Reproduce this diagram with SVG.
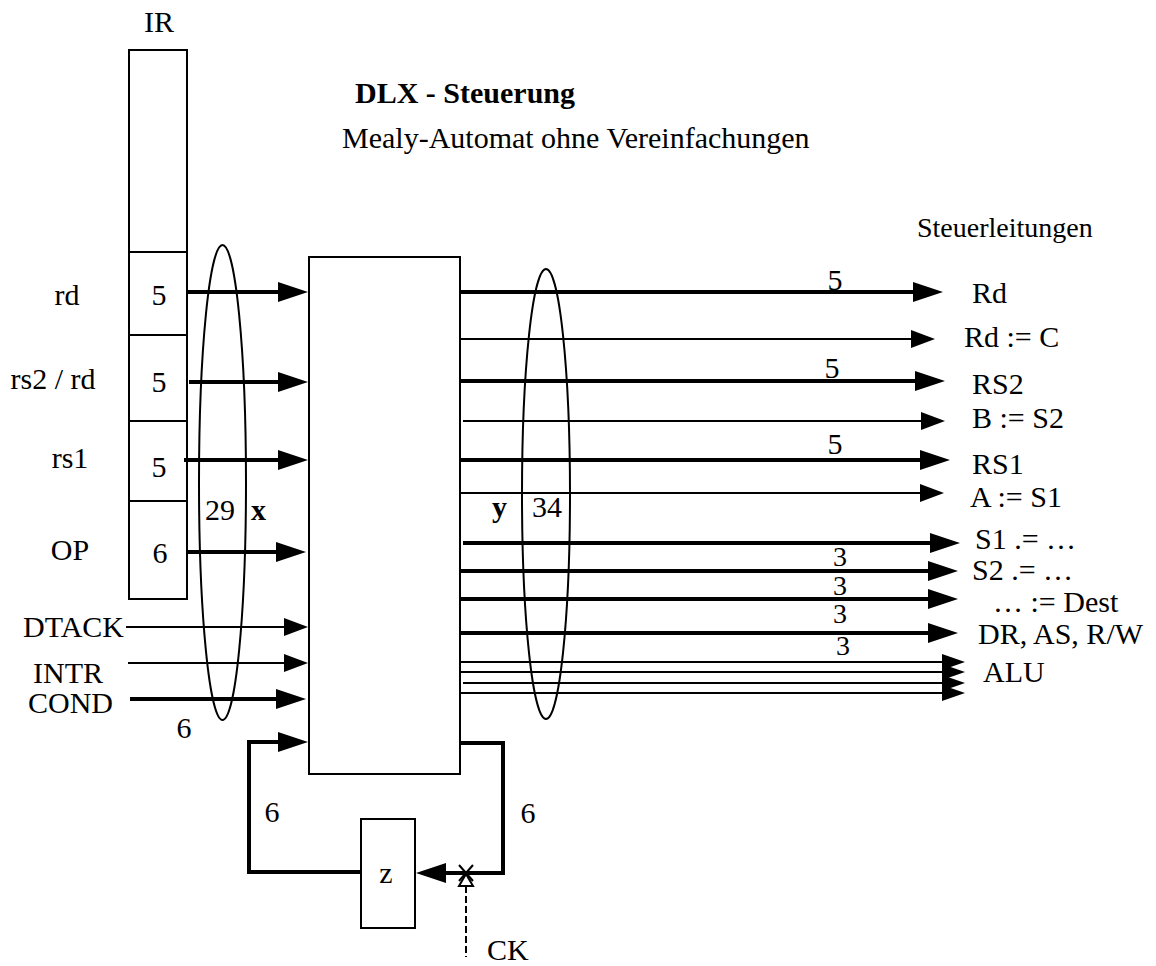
<svg xmlns="http://www.w3.org/2000/svg" width="1156" height="966" viewBox="0 0 1156 966">
<style>
text{font-family:"Liberation Serif","Times New Roman",serif;font-size:30px;fill:#000}
.b{font-weight:bold}
.m{text-anchor:middle}
.e{text-anchor:end}
.s{font-size:28px}
.box{fill:#fff;stroke:#000;stroke-width:2}
.ell{fill:none;stroke:#000;stroke-width:2}
.tk{fill:none;stroke:#000;stroke-width:4}
.tn{fill:none;stroke:#000;stroke-width:2}
.ak{marker-end:url(#ah)}
.an{marker-end:url(#at)}
.aa{marker-end:url(#aa)}
</style>
<defs>
<marker id="ah" markerUnits="userSpaceOnUse" viewBox="0 0 30 20" markerWidth="30" markerHeight="20" refX="20" refY="10" orient="auto"><path d="M0,0 L30,10 L0,20 Z" fill="#000"/></marker>
<marker id="at" markerUnits="userSpaceOnUse" viewBox="0 0 24 18" markerWidth="24" markerHeight="18" refX="16" refY="9" orient="auto"><path d="M0,0 L24,9 L0,18 Z" fill="#000"/></marker>
<marker id="aa" markerUnits="userSpaceOnUse" viewBox="0 0 23 16" markerWidth="23" markerHeight="16" refX="15" refY="8" orient="auto"><path d="M0,0 L23,8 L0,16 Z" fill="#000"/></marker>
</defs>
<rect width="1156" height="966" fill="#fff"/>

<g id="titles">
<text x="355" y="103" class="b">DLX - Steuerung</text>
<text x="342" y="148">Mealy-Automat ohne Vereinfachungen</text>
<text x="917" y="237" style="font-size:28px">Steuerleitungen</text>
</g>

<g id="IR">
<text x="159" y="32" class="m">IR</text>
<rect x="129" y="50" width="58" height="549" class="box"/>
<line x1="129" y1="252" x2="187" y2="252" class="tn"/>
<line x1="129" y1="335" x2="187" y2="335" class="tn"/>
<line x1="129" y1="421" x2="187" y2="421" class="tn"/>
<line x1="129" y1="501" x2="187" y2="501" class="tn"/>
<text x="159" y="305" class="m">5</text>
<text x="159" y="392" class="m">5</text>
<text x="159" y="477" class="m">5</text>
<text x="160" y="563" class="m">6</text>
</g>

<g id="inputLabels">
<text x="67" y="305" class="m">rd</text>
<text x="53" y="389" class="m">rs2 / rd</text>
<text x="70" y="468" class="m">rs1</text>
<text x="70" y="560" class="m">OP</text>
<text x="124" y="637" class="e">DTACK</text>
<text x="33" y="683">INTR</text>
<text x="28" y="713">COND</text>
<text x="184" y="738" class="m">6</text>
</g>

<g id="control">
<rect x="309" y="257" width="151" height="517" class="box"/>
</g>

<g id="z">
<rect x="361" y="819" width="54" height="109" class="box"/>
<text x="386" y="883" class="m">z</text>
</g>

<g id="connectors">
<line x1="187" y1="292" x2="298" y2="292" class="tk ak"/>
<line x1="189" y1="382" x2="298" y2="382" class="tk ak"/>
<line x1="184" y1="460" x2="298" y2="460" class="tk ak"/>
<line x1="188" y1="552" x2="296" y2="552" class="tk ak"/>
<line x1="126" y1="627" x2="300" y2="627" class="tn an"/>
<line x1="128" y1="663" x2="300" y2="663" class="tn an"/>
<line x1="130" y1="699" x2="296" y2="699" class="tk ak"/>
<path d="M361,872 H249 V742 H298" class="tk ak"/>
<path d="M460,743 H503 V873 H426" class="tk ak"/>

<line x1="460" y1="292" x2="933" y2="292" class="tk ak"/>
<line x1="460" y1="339" x2="927" y2="339" class="tn an"/>
<line x1="460" y1="381" x2="935" y2="381" class="tk ak"/>
<line x1="463" y1="421" x2="937" y2="421" class="tn an"/>
<line x1="460" y1="460" x2="940" y2="460" class="tk ak"/>
<line x1="460" y1="493" x2="936" y2="493" class="tn an"/>
<line x1="463" y1="543" x2="950" y2="543" class="tk ak"/>
<line x1="460" y1="571" x2="948" y2="571" class="tk ak"/>
<line x1="460" y1="599" x2="948" y2="599" class="tk ak"/>
<line x1="460" y1="633" x2="948" y2="633" class="tk ak"/>
<line x1="460" y1="662" x2="957" y2="662" class="tn aa"/>
<line x1="460" y1="672" x2="957" y2="672" class="tn aa"/>
<line x1="463" y1="683" x2="957" y2="683" class="tn aa"/>
<line x1="460" y1="693" x2="957" y2="693" class="tn aa"/>

<line x1="459" y1="865" x2="473" y2="881" class="tn"/>
<line x1="473" y1="865" x2="459" y2="881" class="tn"/>
<polygon points="466,874 459,886 473,886" fill="#fff" stroke="#000" stroke-width="2"/>
<line x1="466" y1="886" x2="466" y2="957" class="tn" stroke-dasharray="7 3"/>
</g>

<g id="bundles">
<ellipse cx="222.5" cy="482.5" rx="23.5" ry="237.5" class="ell"/>
<ellipse cx="546" cy="494" rx="24" ry="225" class="ell"/>
<text x="205" y="520">29</text>
<text x="251" y="520" class="b">x</text>
<text x="492" y="517" class="b">y</text>
<text x="532" y="517">34</text>
<text x="272" y="822" class="m">6</text>
<text x="528" y="823" class="m">6</text>
<text x="487" y="960">CK</text>
</g>

<g id="outputLabels">
<text x="835" y="290" class="m">5</text>
<text x="832" y="378" class="m">5</text>
<text x="835" y="454" class="m">5</text>
<text x="840" y="566" class="m s">3</text>
<text x="840" y="595" class="m s">3</text>
<text x="840" y="623" class="m s">3</text>
<text x="843" y="655" class="m s">3</text>
<text x="972" y="303">Rd</text>
<text x="964" y="347">Rd := C</text>
<text x="972" y="394">RS2</text>
<text x="972" y="428">B := S2</text>
<text x="972" y="474">RS1</text>
<text x="970" y="507">A := S1</text>
<text x="975" y="549">S1 .= …</text>
<text x="972" y="580">S2 .= …</text>
<text x="993" y="612">… := Dest</text>
<text x="978" y="644">DR, AS, R/W</text>
<text x="983" y="682">ALU</text>
</g>
</svg>
